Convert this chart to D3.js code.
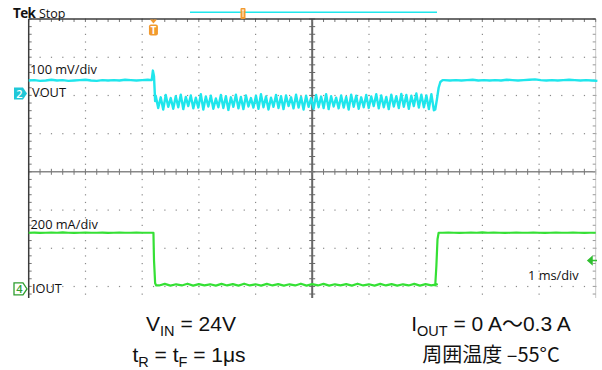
<!DOCTYPE html>
<html>
<head>
<meta charset="utf-8">
<script src="https://cdn.jsdelivr.net/npm/d3@7"></script>
<style>
  body { margin: 0; background: #fff; }
  svg { display: block; }
</style>
</head>
<body>
<svg id="scope"></svg>
<script>
// scope settings: 1 ms/div, 8 vertical divisions
const timeDomain = [-5, 5];
const divDomain = [-4, 4];
const ch2Offset = 2.05, ch2Scale = 100;   // VOUT, div / mV per div
const ch4Offset = -3.065, ch4Scale = 200; // IOUT, div / mA per div
const sampleStep = 0.1;     // ms, flat parts
const rippleStep = 0.0442;  // ms, ripple sampled at its peaks and troughs

// VOUT in mV (relative to the ch2 marker)
const voutPre = [34, 35, 33, 34, 36, 34, 35, 33, 34, 35, 36, 34, 33, 35, 34, 35, 34, 36, 35, 34, 35, 36];
const voutFall = [[-2.83, 35], [-2.81, 60], [-2.79, 45], [-2.77, -20]];
const voutRipple = [
  -6, -38, -10, -42, -4, -35, -12, -40, -7, -36, -3, -41, -9, -33, -5, -39, -11, -37, -2, -42,
  -8, -34, -6, -40, -13, -36, -4, -38, -7, -43, -10, -35, -3, -39, -9, -41, -5, -34, -12, -37,
  -6, -40, -2, -36, -8, -42, -11, -35, -4, -38, -7, -41, -5, -33, -10, -39, -3, -37, -9, -42,
  -6, -35, -12, -40, -4, -36, -8, -38, -2, -41, -7, -34, -11, -39, -5, -37, -9, -42, -3, -35,
  -6, -40, -10, -36, -4, -38, -8, -33, -2, -39, -5, -36, -9, -41, -3, -34, -7, -38, -1, -35,
  -4, -40, -6, -33, 0, -37, -3, -36, -5, -41, -2, -44
];
const voutRise = [[2.17, -42], [2.20, -15], [2.23, 15], [2.26, 30], [2.30, 35]];
const voutPost = [35, 34, 35, 34, 35, 36, 34, 35, 34, 35, 34, 36, 35, 34, 35, 36, 37, 35, 34, 35, 34, 35, 36, 35, 34, 35, 34, 33];

// IOUT in mA
const ioutPre = [294, 295, 293, 294, 295, 294, 296, 294, 293, 294, 295, 294, 294, 295, 293, 294, 295, 294, 294, 295, 294, 294];
const ioutFall = [[-2.80, 294], [-2.79, 150], [-2.77, 30], [-2.75, 18]];
const ioutLow = [
  18, 26, 17, 24, 18, 27, 17, 25, 18, 24, 17, 26, 18, 25, 17, 27, 18, 24, 17, 26,
  18, 25, 17, 24, 18, 27, 17, 25, 18, 26, 17, 24, 18, 25, 17, 27, 18, 24, 17, 26,
  18, 25, 17, 24, 18, 26, 17, 25, 18, 24
];
const ioutRise = [[2.17, 18], [2.19, 120], [2.21, 260], [2.23, 294]];
const ioutPost = [294, 295, 294, 293, 294, 295, 294, 296, 294, 295, 294, 293, 294, 295, 294, 294, 295, 294, 293, 294, 295, 294, 294, 295, 294, 293, 294, 294];

const svgWidth = 602, svgHeight = 370;

const svg = d3.select("#scope")
  .attr("width", svgWidth)
  .attr("height", svgHeight)
  .attr("viewBox", `0 0 ${svgWidth} ${svgHeight}`);

const x = d3.scaleLinear().domain(timeDomain).range([28.7, 595.7]);
const y = d3.scaleLinear().domain(divDomain).range([324.6, 19]);

// the screen grab is cut off a bit below the last label
const clipBottom = 298;
svg.append("clipPath").attr("id", "screen")
  .append("rect")
  .attr("x", 0).attr("y", 0)
  .attr("width", svgWidth).attr("height", clipBottom);

const screen = svg.append("g").attr("clip-path", "url(#screen)");

// graticule -----------------------------------------------------------
const grid = screen.append("g");
const minorX = d3.range(timeDomain[0], timeDomain[1] + 0.001, 0.2);
const minorY = d3.range(divDomain[0], divDomain[1] + 0.001, 0.2);
const innerX = d3.range(-4, 5, 1).filter(d => d !== 0);
const innerY = d3.range(-3, 4, 1).filter(d => d !== 0);

// dotted major lines
innerX.forEach(v => {
  grid.selectAll(null).data(minorY).join("rect")
    .attr("x", x(v) - 0.5).attr("y", d => y(d) - 0.5)
    .attr("width", 1.2).attr("height", 1.2)
    .attr("fill", "#8a8a8a");
});
innerY.forEach(v => {
  grid.selectAll(null).data(minorX).join("rect")
    .attr("x", d => x(d) - 0.5).attr("y", y(v) - 0.5)
    .attr("width", 1.2).attr("height", 1.2)
    .attr("fill", "#8a8a8a");
});

// center cross
grid.append("line")
  .attr("x1", x(0)).attr("x2", x(0)).attr("y1", y(4)).attr("y2", y(-4))
  .attr("stroke", "#666").attr("stroke-width", 2);
grid.append("line")
  .attr("x1", x(-5)).attr("x2", x(5)).attr("y1", y(0)).attr("y2", y(0))
  .attr("stroke", "#888").attr("stroke-width", 1.6);
grid.selectAll(null).data(minorY).join("line")
  .attr("x1", x(0) - 3).attr("x2", x(0) + 3)
  .attr("y1", d => y(d)).attr("y2", d => y(d))
  .attr("stroke", "#666").attr("stroke-width", 1);
grid.selectAll(null).data(minorX).join("line")
  .attr("x1", d => x(d)).attr("x2", d => x(d))
  .attr("y1", y(0) - 3).attr("y2", y(0) + 3)
  .attr("stroke", "#777").attr("stroke-width", 1);

// frame + edge ticks
grid.append("line")
  .attr("x1", x(5)).attr("x2", x(5)).attr("y1", y(4)).attr("y2", y(-4))
  .attr("stroke", "#c8c8c8").attr("stroke-width", 1);
grid.selectAll(null).data(minorY).join("line")
  .attr("x1", x(5) - 3).attr("x2", x(5))
  .attr("y1", d => y(d)).attr("y2", d => y(d))
  .attr("stroke", "#999").attr("stroke-width", 1);
grid.selectAll(null).data(minorX).join("line")
  .attr("x1", d => x(d)).attr("x2", d => x(d))
  .attr("y1", y(4)).attr("y2", y(4) + 3)
  .attr("stroke", "#777").attr("stroke-width", 1);
grid.selectAll(null).data(minorY).join("line")
  .attr("x1", x(-5)).attr("x2", x(-5) + 3)
  .attr("y1", d => y(d)).attr("y2", d => y(d))
  .attr("stroke", "#777").attr("stroke-width", 1);
grid.append("line")
  .attr("x1", x(-5)).attr("x2", x(5)).attr("y1", y(4)).attr("y2", y(4))
  .attr("stroke", "#3c3c3c").attr("stroke-width", 1.5);
grid.append("line")
  .attr("x1", x(-5)).attr("x2", x(-5)).attr("y1", y(4)).attr("y2", y(-4))
  .attr("stroke", "#3c3c3c").attr("stroke-width", 1.5);

// traces --------------------------------------------------------------
function sampled(t0, dt, values) {
  return values.map((v, i) => [t0 + i * dt, v]);
}

const voutPts = [].concat(
  sampled(-5, sampleStep, voutPre),
  voutFall,
  sampled(-2.76, rippleStep, voutRipple),
  voutRise,
  sampled(2.33, sampleStep, voutPost)
);
const ioutPts = [].concat(
  sampled(-5, sampleStep, ioutPre),
  ioutFall,
  sampled(-2.7, sampleStep, ioutLow),
  ioutRise,
  sampled(2.3, sampleStep, ioutPost)
);

const voutLine = d3.line()
  .x(d => x(d[0]))
  .y(d => y(ch2Offset + d[1] / ch2Scale));
const ioutLine = d3.line()
  .x(d => x(d[0]))
  .y(d => y(ch4Offset + d[1] / ch4Scale));

screen.append("path")
  .attr("d", ioutLine(ioutPts))
  .attr("fill", "none")
  .attr("stroke", "#35e035")
  .attr("stroke-width", 2.2)
  .attr("stroke-linejoin", "round");

screen.append("path")
  .attr("d", voutLine(voutPts))
  .attr("fill", "none")
  .attr("stroke", "#1fe6ec")
  .attr("stroke-width", 2.4)
  .attr("stroke-linejoin", "round");

// labels on screen ----------------------------------------------------
const scopeFont = "'Open Sans', 'Noto Sans', sans-serif";

svg.append("text").attr("x", 13).attr("y", 17.5)
  .attr("font-family", scopeFont).attr("font-size", 13.5).attr("font-weight", 700)
  .attr("letter-spacing", -0.6).attr("fill", "#111").text("Tek");
svg.append("text").attr("x", 39).attr("y", 17.5)
  .attr("font-family", scopeFont).attr("font-size", 12.5).attr("fill", "#111").text("Stop");

// record view bar with the trigger position
svg.append("line")
  .attr("x1", 190).attr("x2", 437).attr("y1", 12.3).attr("y2", 12.3)
  .attr("stroke", "#1fe6ec").attr("stroke-width", 1.5);
svg.append("rect").attr("x", 240.5).attr("y", 8).attr("width", 5).attr("height", 11)
  .attr("rx", 1).attr("fill", "#f29a2e");
svg.append("path").attr("d", "M241.8,10 h2.4 M243,10 v7")
  .attr("stroke", "#fff").attr("stroke-width", 0.9);

// trigger marker (T)
const tx = x(-2.8);
svg.append("path")
  .attr("d", `M${tx - 3.5},19.5 L${tx + 3.5},19.5 L${tx},23.5 Z`)
  .attr("fill", "#f29a2e");
svg.append("rect").attr("x", tx - 4.5).attr("y", 24.5).attr("width", 9).attr("height", 11)
  .attr("rx", 2).attr("fill", "#f29a2e");
svg.append("text").attr("x", tx).attr("y", 33.5).attr("text-anchor", "middle")
  .attr("font-family", scopeFont).attr("font-size", 10).attr("font-weight", 700)
  .attr("fill", "#fff").text("T");

// channel markers
function marker(cy, label, filled, color) {
  const g = svg.append("g");
  g.append("path")
    .attr("d", `M14,${cy - 6} L23,${cy - 6} L27,${cy} L23,${cy + 6} L14,${cy + 6} Z`)
    .attr("fill", filled ? color : "#fff")
    .attr("stroke", color).attr("stroke-width", filled ? 0 : 1.3);
  g.append("text").attr("x", 19.5).attr("y", cy + 4.3).attr("text-anchor", "middle")
    .attr("font-family", scopeFont).attr("font-size", 11).attr("font-weight", 600)
    .attr("fill", filled ? "#fff" : color).text(label);
}
marker(y(ch2Offset), "2", true, "#20c8d8");
marker(y(ch4Offset), "4", false, "#2f9e2f");

const labels = [
  { text: "100 mV/div", x: 30, y: 73.5 },
  { text: "VOUT", x: 32, y: 97 },
  { text: "200 mA/div", x: 30.5, y: 228.5 },
  { text: "IOUT", x: 32, y: 293 },
  { text: "1 ms/div", x: 528, y: 280 }
];
svg.selectAll("text.lbl").data(labels).join("text")
  .attr("class", "lbl")
  .attr("x", d => d.x).attr("y", d => d.y)
  .attr("font-family", scopeFont).attr("font-size", 12.8)
  .attr("fill", "#111").text(d => d.text);

// small green arrow on the right edge (ch4 offset indicator)
svg.append("path")
  .attr("d", "M588,260.5 L592,257 L592,264 Z M591,260.5 H597")
  .attr("fill", "#2fbf2f").attr("stroke", "#2fbf2f").attr("stroke-width", 1.5);

// conditions below the screen -----------------------------------------
const jpFont = "'Liberation Sans', 'Noto Sans CJK JP', sans-serif";

function subText(xPos, yPos, parts) {
  const t = svg.append("text").attr("x", xPos).attr("y", yPos)
    .attr("font-family", jpFont).attr("font-size", 21).attr("fill", "#111")
    .attr("text-anchor", "middle");
  parts.forEach(p => {
    const s = t.append("tspan").text(p[0]);
    if (p[1] === "sub") s.attr("font-size", 14.5).attr("dy", 5);
    if (p[1] === "up") s.attr("dy", -5);
  });
  return t;
}

subText(191, 331, [["V"], ["IN", "sub"], [" = 24V", "up"]]);
subText(189, 362, [["t"], ["R", "sub"], [" = t", "up"], ["F", "sub"], [" = 1μs", "up"]]);
subText(491, 331, [["I"], ["OUT", "sub"], [" = 0 A～0.3 A", "up"]]);
svg.append("text").attr("x", 491).attr("y", 362).attr("text-anchor", "middle")
  .attr("font-family", "'Noto Sans CJK JP', sans-serif").attr("font-size", 20)
  .attr("fill", "#111").text("周囲温度 –55°C");
</script>
</body>
</html>
